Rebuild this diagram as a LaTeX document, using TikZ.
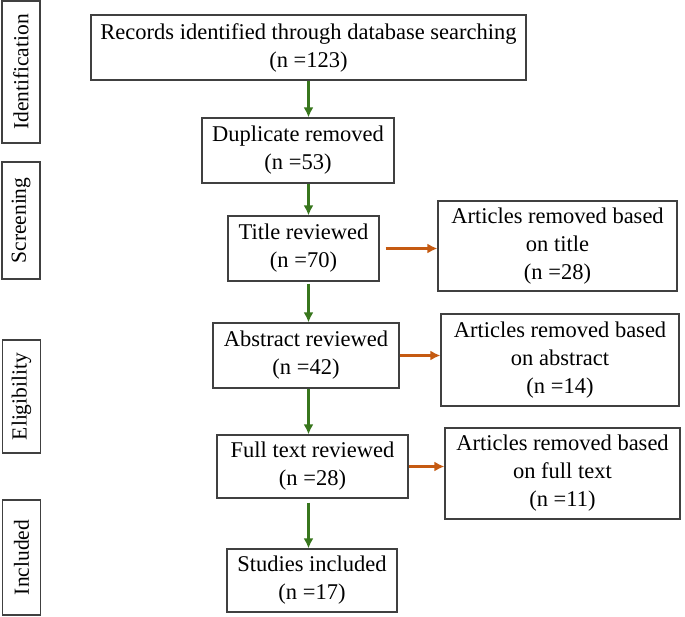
\documentclass[tikz,border=0pt]{standalone}
\usepackage{fontspec}
\setmainfont{Liberation Serif}
\usetikzlibrary{arrows,arrows.meta,calc,positioning,shapes}
\definecolor{flowgreen}{RGB}{56,118,29}
\definecolor{flowred}{RGB}{197,90,17}
\tikzset{
  box/.style={draw=black!75,line width=1.2pt,align=center,inner sep=2pt,
    font=\fontsize{22.5}{28}\selectfont},
  stage/.style={box,rotate=90,minimum height=38pt,font=\fontsize{21.5}{26}\selectfont},
  down/.style={-{Latex[length=10pt,width=10pt]},flowgreen,line width=2.2pt},
  aside/.style={-{Latex[length=10pt,width=10pt]},flowred,line width=2.2pt},
}

\begin{document}
\begin{tikzpicture}[x=1pt,y=1pt]
            \useasboundingbox (0,0) rectangle (685,-617);
            % stages
            \node[stage,minimum width=142pt] (ident) at (21,-72) {Identification};
            \node[stage,minimum width=117pt] (screen) at (21,-220.5) {Screening};
            \node[stage,minimum width=113pt] (elig) at (21.5,-396.5) {Eligibility};
            \node[stage,minimum width=115pt] (incl) at (21.5,-557.5) {Included};
            % main flow
            \node[box,minimum width=435pt,minimum height=65pt] (records) at (308.5,-47.5) {Records identified through database searching\\(n =123)};
            \node[box,minimum width=192pt,minimum height=65pt] (dup) at (298,-150.5) {Duplicate removed\\(n =53)};
            \node[box,minimum width=151pt,minimum height=65pt] (title) at (303.5,-248.5) {Title reviewed\\(n =70)};
            \node[box,minimum width=186pt,minimum height=65pt] (abstract) at (306,-355.5) {Abstract reviewed\\(n =42)};
            \node[box,minimum width=191pt,minimum height=63pt] (full) at (312.5,-466.5) {Full text reviewed\\(n =28)};
            \node[box,minimum width=170pt,minimum height=63pt] (studies) at (312,-580.5) {Studies included\\(n =17)};
            % removed
            \node[box,minimum width=239pt,minimum height=90pt] (titleout) at (557.5,-246) {Articles removed based\\on title\\(n =28)};
            \node[box,minimum width=238pt,minimum height=92pt] (absout) at (560,-360) {Articles removed based\\on abstract\\(n =14)};
            \node[box,minimum width=235pt,minimum height=91pt] (fullout) at (562.5,-473.5) {Articles removed based\\on full text\\(n =11)};
            % arrows
            \draw[down] (records.south) -- (records.south |- dup.north);
            \draw[down] (records.south |- dup.south) -- (records.south |- title.north);
            \draw[down,shorten <=2pt] (records.south |- title.south) -- (records.south |- abstract.north);
            \draw[down] (records.south |- abstract.south) -- (records.south |- full.north);
            \draw[down,shorten <=4pt] (records.south |- full.south) -- (records.south |- studies.north);
            \draw[aside,shorten <=6pt] (title.east) -- (title.east -| titleout.west);
            \draw[aside] (abstract.east) -- (abstract.east -| absout.west);
            \draw[aside] (full.east) -- (full.east -| fullout.west);
        \end{tikzpicture}
\end{document}
